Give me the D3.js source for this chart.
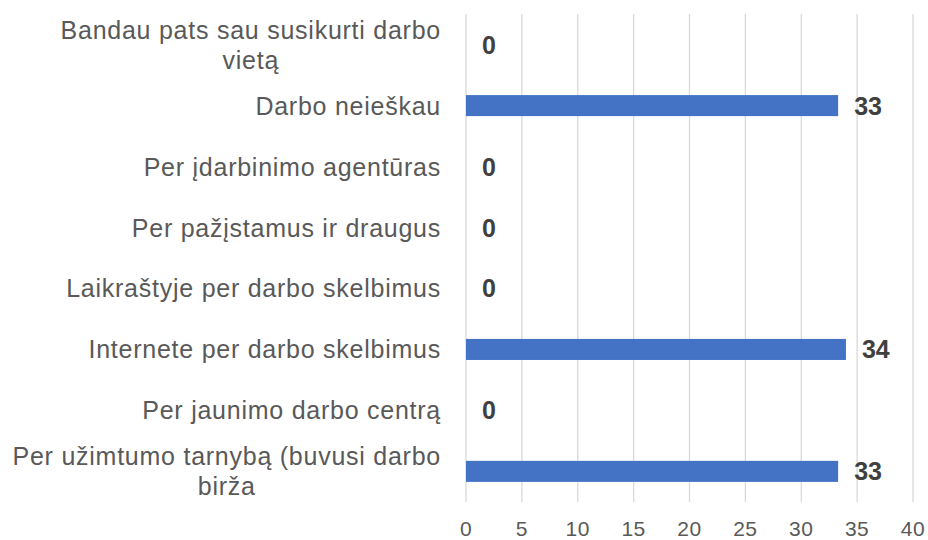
<!DOCTYPE html>
<html>
<head>
<meta charset="utf-8">
<script src="https://cdn.jsdelivr.net/npm/d3@7"></script>
<style>
  body { margin: 0; background: #fff; }
  svg { display: block; font-family: "Liberation Sans", Arial, sans-serif; }
</style>
</head>
<body>
<div id="chart"></div>
<script>
const categories = [
  "Bandau pats sau susikurti darbo vietą",
  "Darbo neieškau",
  "Per įdarbinimo agentūras",
  "Per pažįstamus ir draugus",
  "Laikraštyje per darbo skelbimus",
  "Internete per darbo skelbimus",
  "Per jaunimo darbo centrą",
  "Per užimtumo tarnybą (buvusi darbo birža"
];
const values = [0, 33.3, 0, 0, 0, 34, 0, 33.3];
const xTicks = [0, 5, 10, 15, 20, 25, 30, 35, 40];

const width = 928;
const height = 540;
const margin = { top: 14, right: 15, bottom: 38, left: 466 };

const svg = d3.select("#chart")
  .append("svg")
  .attr("width", width)
  .attr("height", height);

const x = d3.scaleLinear()
  .domain([0, 40])
  .range([margin.left, width - margin.right]);

const y = d3.scaleBand()
  .domain(categories)
  .range([margin.top, height - margin.bottom])
  .paddingInner(0.655)
  .paddingOuter(0.33);

// vertical gridlines
svg.append("g")
  .selectAll("line")
  .data(xTicks)
  .join("line")
  .attr("x1", d => x(d))
  .attr("x2", d => x(d))
  .attr("y1", margin.top)
  .attr("y2", height - margin.bottom)
  .attr("stroke", "#d9d9d9")
  .attr("stroke-width", 1.3);

// x tick labels
svg.append("g")
  .selectAll("text")
  .data(xTicks)
  .join("text")
  .attr("x", d => x(d))
  .attr("y", 536)
  .attr("text-anchor", "middle")
  .attr("font-size", "21px")
  .attr("letter-spacing", "0.5px")
  .attr("fill", "#595959")
  .text(d => d);

// bars
svg.append("g")
  .selectAll("rect")
  .data(categories)
  .join("rect")
  .attr("x", x(0))
  .attr("y", d => y(d))
  .attr("width", (d, i) => x(values[i]) - x(0))
  .attr("height", y.bandwidth())
  .attr("fill", "#4472c4");

// value labels
svg.append("g")
  .selectAll("text")
  .data(categories)
  .join("text")
  .attr("x", (d, i) => x(values[i]) + 16)
  .attr("y", d => y(d) + y.bandwidth() / 2)
  .attr("dy", "0.36em")
  .attr("font-size", "25px")
  .attr("font-weight", "bold")
  .attr("fill", "#404040")
  .text((d, i) => d3.format(".0f")(values[i]));

// category labels, wrapped and centred within a right-aligned block
const labelRight = 441;
const maxLabelWidth = 440;
const lineHeight = 30;

categories.forEach(cat => {
  const g = svg.append("g");
  const words = cat.split(" ");
  const lines = [];
  let current = [];
  const probe = g.append("text")
    .attr("font-size", "25px")
    .attr("letter-spacing", "0.75px");
  words.forEach(w => {
    const test = current.concat(w).join(" ");
    probe.text(test);
    if (probe.node().getComputedTextLength() > maxLabelWidth && current.length) {
      lines.push(current.join(" "));
      current = [w];
    } else {
      current.push(w);
    }
  });
  lines.push(current.join(" "));

  let blockWidth = 0;
  lines.forEach(l => {
    probe.text(l);
    blockWidth = Math.max(blockWidth, probe.node().getComputedTextLength());
  });
  probe.remove();

  const cy = y(cat) + y.bandwidth() / 2;
  const startY = cy - (lines.length - 1) * lineHeight / 2;
  lines.forEach((l, i) => {
    g.append("text")
      .attr("x", labelRight - blockWidth / 2)
      .attr("y", startY + i * lineHeight)
      .attr("dy", "0.36em")
      .attr("text-anchor", "middle")
      .attr("font-size", "25px")
      .attr("letter-spacing", "0.75px")
      .attr("fill", "#595959")
      .text(l);
  });
});
</script>
</body>
</html>
